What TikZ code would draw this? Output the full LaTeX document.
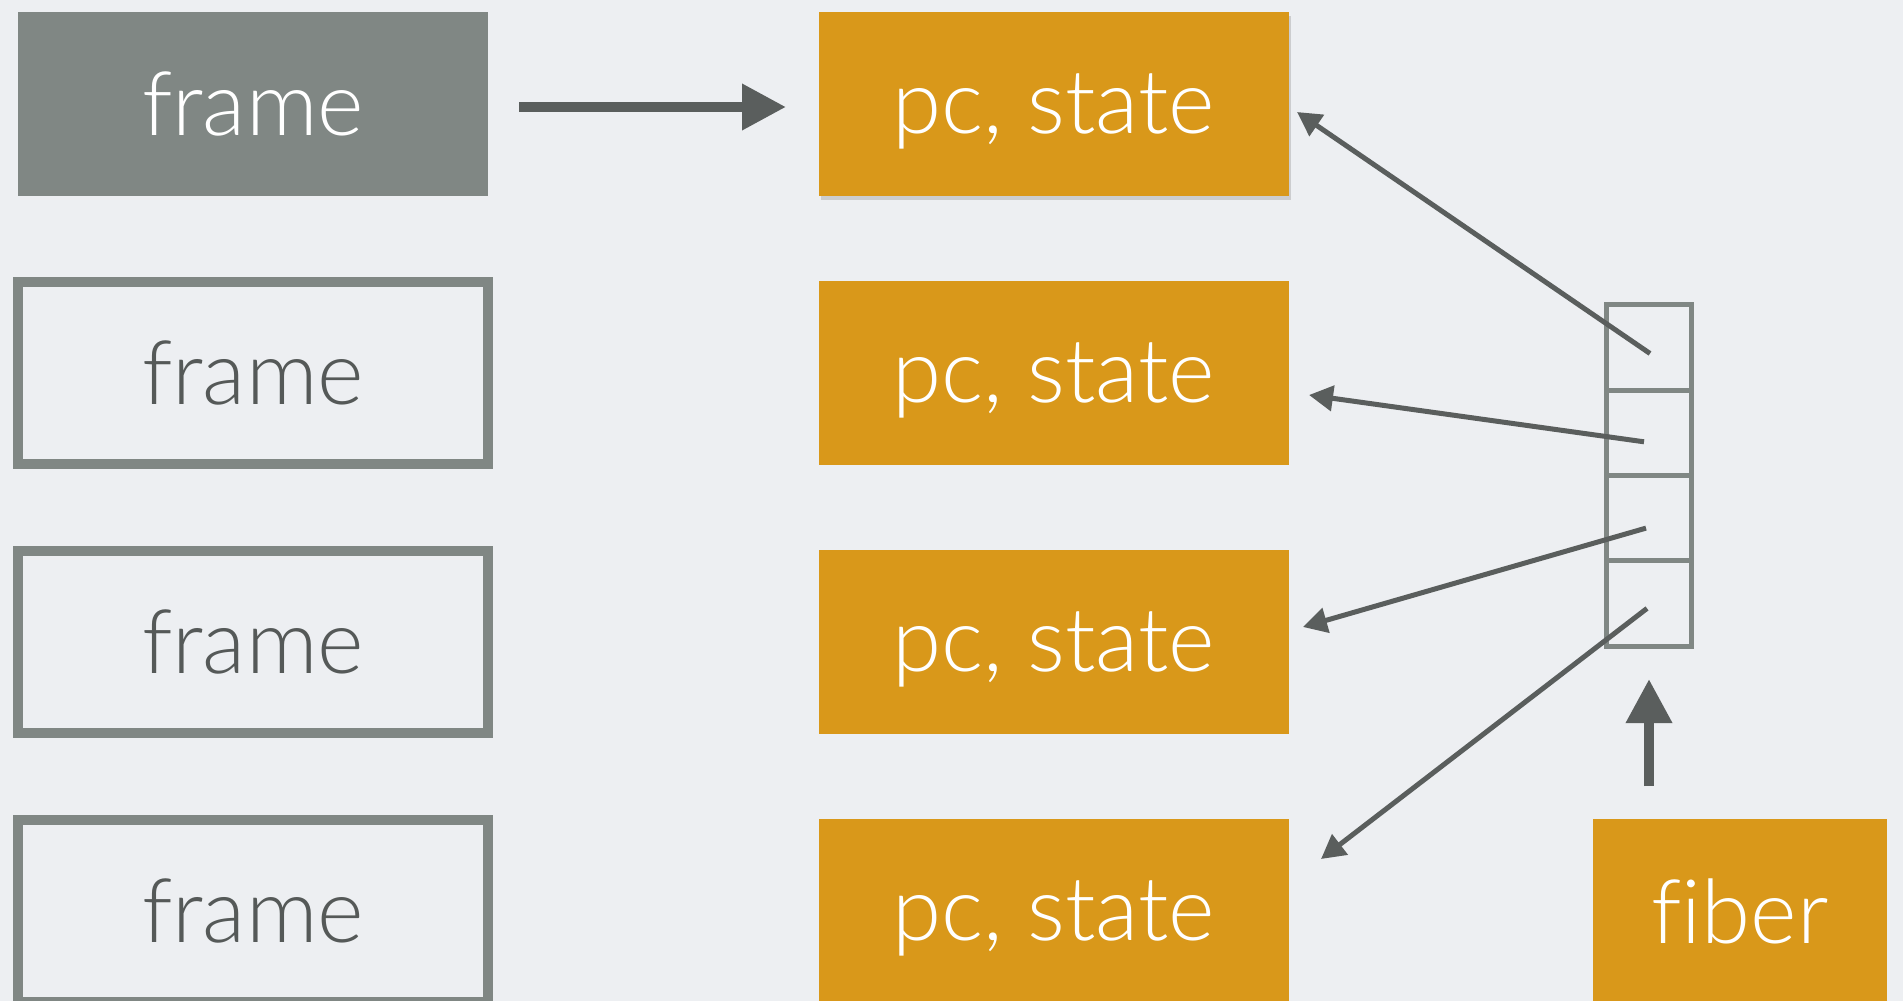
\documentclass[tikz,border=0pt]{standalone}
\usepackage{fontspec}
\setmainfont{Lato}[UprightFont=* Light, Ligatures=NoCommon]
\usetikzlibrary{arrows.meta,shadows}

\definecolor{bgcol}{HTML}{EDEFF2}
\definecolor{framegray}{HTML}{808784}
\definecolor{arrowgray}{HTML}{5A5E5D}
\definecolor{boxorange}{HTML}{D9981A}
\definecolor{darktext}{HTML}{555958}

\tikzset{
  box/.style={rectangle, inner sep=0pt, outer sep=0pt,
    minimum width=470pt, minimum height=184pt,
    font=\fontsize{89}{89}\selectfont, text depth=0pt},
  framefilled/.style={box, fill=framegray, text=white},
  frameopen/.style={box, draw=framegray, line width=10pt,
    minimum height=182pt, text=darktext},
  pcbox/.style={box, fill=boxorange, text=white},
  cell/.style={rectangle, inner sep=0pt, outer sep=0pt,
    minimum width=85pt, minimum height=85.3pt,
    draw=framegray, line width=5pt},
  bigarrow/.style={draw=arrowgray, line width=10pt,
    -{Triangle[length=44pt,width=44pt]}},
  thinarrow/.style={draw=arrowgray, line width=5pt,
    -{Triangle[length=24pt,width=25pt]}},
}

\begin{document}
\begin{tikzpicture}[x=1pt, y=-1pt]
  % canvas
  \fill[bgcol] (0,0) rectangle (1903,1001);
  \useasboundingbox (0,0) rectangle (1903,1001);

  % frames column
  \node[framefilled] (f1) at (253,104) {frame};
  \node[frameopen]   (f2) at (253,373) {frame};
  \node[frameopen]   (f3) at (253,642) {frame};
  \node[frameopen]   (f4) at (253,911) {frame};

  % pc, state column
  \node[pcbox, drop shadow={shadow xshift=2pt, shadow yshift=-4pt, opacity=0.3}]
                 (p1) at (1054,104) {pc, state};
  \node[pcbox]   (p2) at (1054,373) {pc, state};
  \node[pcbox]   (p3) at (1054,642) {pc, state};
  \node[pcbox]   (p4) at (1054,911) {pc, state};

  % fiber and its stack
  \node[pcbox, minimum width=294pt] (fiber) at (1740,911) {fiber};
  \node[cell] (s1) at (1649,347.5) {};
  \node[cell] (s2) at (1649,432.8) {};
  \node[cell] (s3) at (1649,518.1) {};
  \node[cell] (s4) at (1649,603.4) {};

  % connectors
  \draw[bigarrow] ([xshift=31pt,yshift=-3pt]f1.east) -- ([xshift=-33pt,yshift=-3pt]p1.west);
  \draw[bigarrow] ([xshift=-91pt,yshift=33pt]fiber.north) -- ([yshift=-33pt]s4.south);

  \draw[thinarrow] ([xshift=1pt,yshift=-6pt]s1.center) -- ([xshift=8pt,yshift=-8pt]p1.east);
  \draw[thinarrow] ([xshift=-5pt,yshift=-9pt]s2.center) -- ([xshift=20pt,yshift=-22pt]p2.east);
  \draw[thinarrow] ([xshift=-3pt,yshift=-10pt]s3.center) -- ([xshift=14pt,yshift=15pt]p3.east);
  \draw[thinarrow] ([xshift=-2pt,yshift=-5pt]s4.center) -- ([xshift=32pt,yshift=52pt]p4.east);
\end{tikzpicture}
\end{document}
